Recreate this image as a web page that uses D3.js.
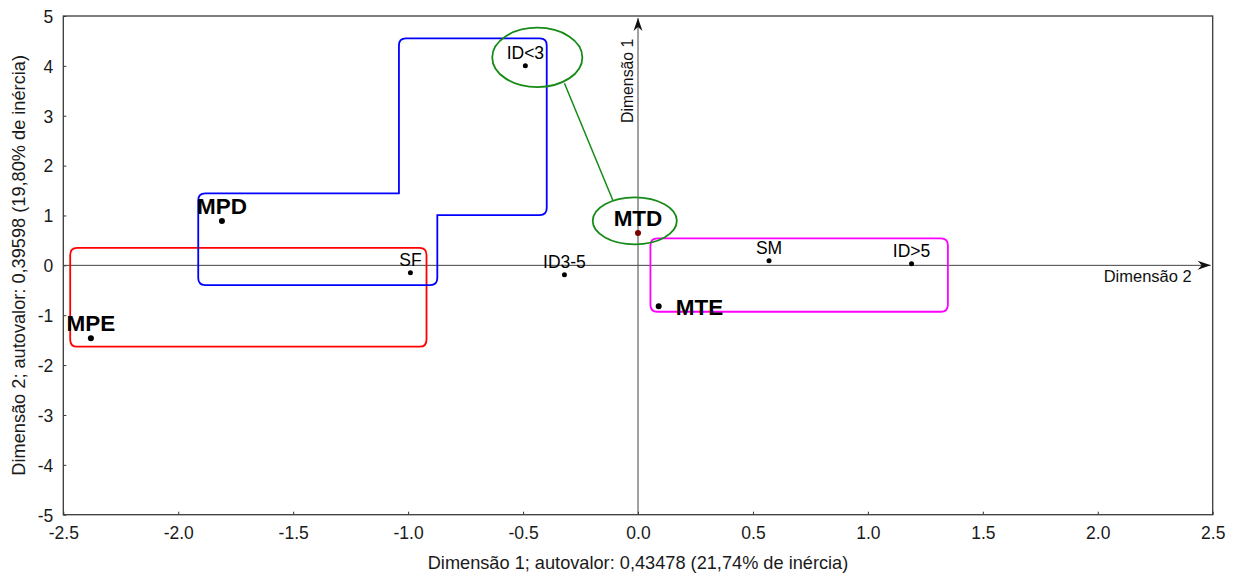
<!DOCTYPE html>
<html>
<head>
<meta charset="utf-8">
<script src="https://cdn.jsdelivr.net/npm/d3@7"></script>
<style>
  html, body { margin: 0; padding: 0; background: #fff; }
  svg { display: block; font-family: "Liberation Sans", Arial, sans-serif; }
</style>
</head>
<body>
<svg id="chart" width="1243" height="574"></svg>
<script>
// Correspondence analysis map: category coordinates on the two dimensions
const labels = ["ID<3", "MTD", "SF", "ID3-5", "SM", "ID>5", "MTE", "MPD", "MPE"];
const dim1   = [-0.49, 0.00, -0.99, -0.32, 0.57, 1.19, 0.09, -1.81, -2.38];
const dim2   = [ 4.00, 0.65, -0.15, -0.19, 0.09, 0.03, -0.82, 0.89, -1.46];
const boldLabels = ["MTD", "MTE", "MPD", "MPE"];

// Axis ticks
const xTicks = [-2.5, -2.0, -1.5, -1.0, -0.5, 0.0, 0.5, 1.0, 1.5, 2.0, 2.5];
const yTicks = [-5, -4, -3, -2, -1, 0, 1, 2, 3, 4, 5];

const xTitle = "Dimensão 1; autovalor: 0,43478 (21,74% de inércia)";
const yTitle = "Dimensão 2; autovalor: 0,39598 (19,80% de inércia)";

// Grouping outlines (data coordinates)
const redGroup     = [[-2.47, 0.35], [-0.92, 0.35], [-0.92, -1.63], [-2.47, -1.63]];
const blueGroup    = [[-1.913, -0.395], [-1.913, 1.444], [-1.04, 1.444], [-1.04, 4.55],
                      [-0.397, 4.55], [-0.397, 1.009], [-0.873, 1.009], [-0.873, -0.395]];
const magentaGroup = [[0.054, 0.54], [1.348, 0.54], [1.348, -0.93], [0.054, -0.93]];

// Highlighted pair: ellipses [cx, cy, rx, ry] and the link between them
const ellipses  = [[-0.438, 4.17, 0.196, 0.595], [-0.014, 0.892, 0.183, 0.471]];
const linkLine  = [[-0.32, 3.65], [-0.11, 1.31]];

const svg = d3.select("#chart");
const M = { left: 63.3, right: 1212.7, top: 16, bottom: 514.7 };

const x = d3.scaleLinear().domain([-2.5, 2.5]).range([M.left, M.right]);
const y = d3.scaleLinear().domain([-5, 5]).range([M.bottom, M.top]);

// Plain hyphen-minus in tick labels
const loc = d3.formatLocale({ decimal: ".", thousands: ",", grouping: [3], currency: ["", ""], minus: "-" });

// Axes with short inward ticks
const xAxis = d3.axisBottom(x).tickValues(xTicks).tickFormat(loc.format(".1f"))
  .tickSizeInner(-3).tickSizeOuter(0).tickPadding(12);
const yAxis = d3.axisLeft(y).tickValues(yTicks).tickFormat(loc.format("d"))
  .tickSizeInner(-3).tickSizeOuter(0).tickPadding(10);

const gx = svg.append("g").attr("transform", `translate(0,${M.bottom})`).call(xAxis);
const gy = svg.append("g").attr("transform", `translate(${M.left},0)`).call(yAxis);
[gx, gy].forEach(g => {
  g.select(".domain").remove();
  g.selectAll(".tick line").attr("stroke", "#333").attr("stroke-width", 1);
  g.selectAll(".tick text").attr("fill", "#1a1a1a").style("font-size", "17.5px")
    .style("font-family", "'Liberation Sans', Arial, sans-serif");
});
gy.selectAll(".tick text").attr("dy", "0.36em");

// Plot frame
svg.append("rect")
  .attr("x", M.left).attr("y", M.top)
  .attr("width", M.right - M.left).attr("height", M.bottom - M.top)
  .attr("fill", "none").attr("stroke", "#3a3a3a").attr("stroke-width", 1.3);

// Axis lines through the origin
svg.append("line")
  .attr("x1", M.left).attr("x2", M.right - 2).attr("y1", y(0)).attr("y2", y(0))
  .attr("stroke", "#444").attr("stroke-width", 1);
svg.append("line")
  .attr("x1", x(0)).attr("x2", x(0)).attr("y1", M.bottom).attr("y2", M.top + 2)
  .attr("stroke", "#444").attr("stroke-width", 1);

// Arrowheads
const ax = M.right - 2, ay = y(0);
svg.append("path")
  .attr("d", `M${ax},${ay} L${ax - 13},${ay - 4.5} L${ax - 9},${ay} L${ax - 13},${ay + 4.5} Z`)
  .attr("fill", "#111");
const bx = x(0), by = M.top + 2;
svg.append("path")
  .attr("d", `M${bx},${by} L${bx - 4.5},${by + 13} L${bx},${by + 9} L${bx + 4.5},${by + 13} Z`)
  .attr("fill", "#111");

// Axis direction captions
svg.append("text")
  .attr("x", M.right - 21).attr("y", y(0) + 17)
  .attr("text-anchor", "end").style("font-size", "16.5px").attr("fill", "#111")
  .text("Dimensão 2");
svg.append("text")
  .attr("transform", `translate(${x(0) - 5},${123}) rotate(-90)`)
  .attr("text-anchor", "start").style("font-size", "15.8px").attr("fill", "#111")
  .text("Dimensão 1");

// Axis titles
svg.append("text")
  .attr("x", (M.left + M.right) / 2).attr("y", 569)
  .attr("text-anchor", "middle").style("font-size", "18.2px").attr("fill", "#1a1a1a")
  .text(xTitle);
svg.append("text")
  .attr("transform", `translate(25,${(M.top + M.bottom) / 2}) rotate(-90)`)
  .attr("text-anchor", "middle").style("font-size", "18.2px").attr("fill", "#1a1a1a")
  .text(yTitle);

// Polygon with rounded convex corners
function roundedPath(pts, r) {
  const P = pts.map(p => [x(p[0]), y(p[1])]);
  const n = P.length;
  let d = "";
  for (let i = 0; i < n; i++) {
    const a = P[(i - 1 + n) % n], b = P[i], c = P[(i + 1) % n];
    const din = [b[0] - a[0], b[1] - a[1]], dout = [c[0] - b[0], c[1] - b[1]];
    const lin = Math.hypot(din[0], din[1]), lout = Math.hypot(dout[0], dout[1]);
    const cross = din[0] * dout[1] - din[1] * dout[0];
    if (cross > 0) {
      const p1 = [b[0] - din[0] / lin * r, b[1] - din[1] / lin * r];
      const p2 = [b[0] + dout[0] / lout * r, b[1] + dout[1] / lout * r];
      d += (i === 0 ? "M" : "L") + p1[0] + "," + p1[1] + "Q" + b[0] + "," + b[1] + " " + p2[0] + "," + p2[1];
    } else {
      d += (i === 0 ? "M" : "L") + b[0] + "," + b[1];
    }
  }
  return d + "Z";
}

svg.append("path").attr("d", roundedPath(redGroup, 7))
  .attr("fill", "none").attr("stroke", "#ff0000").attr("stroke-width", 1.8);
svg.append("path").attr("d", roundedPath(blueGroup, 7))
  .attr("fill", "none").attr("stroke", "#0000ff").attr("stroke-width", 1.8);
svg.append("path").attr("d", roundedPath(magentaGroup, 7))
  .attr("fill", "none").attr("stroke", "#ff00ff").attr("stroke-width", 1.8);

// Highlight ellipses and link
svg.selectAll("ellipse.hl").data(ellipses).join("ellipse")
  .attr("class", "hl")
  .attr("cx", d => x(d[0])).attr("cy", d => y(d[1]))
  .attr("rx", d => x(d[0] + d[2]) - x(d[0]))
  .attr("ry", d => y(d[1] - d[3]) - y(d[1]))
  .attr("fill", "none").attr("stroke", "#168a16").attr("stroke-width", 1.8);
svg.append("line")
  .attr("x1", x(linkLine[0][0])).attr("y1", y(linkLine[0][1]))
  .attr("x2", x(linkLine[1][0])).attr("y2", y(linkLine[1][1]))
  .attr("stroke", "#168a16").attr("stroke-width", 1.5);

// Points and labels
const pts = labels.map((l, i) => ({ label: l, d1: dim1[i], d2: dim2[i] }));

svg.selectAll("circle.pt").data(pts).join("circle")
  .attr("class", "pt")
  .attr("cx", d => x(d.d1)).attr("cy", d => y(d.d2))
  .attr("r", d => boldLabels.includes(d.label) ? 3 : 2.5)
  .attr("fill", d => d.label === "MTD" ? "#7a0000" : "#000");

svg.selectAll("text.lbl").data(pts).join("text")
  .attr("class", "lbl")
  .attr("x", d => d.label === "MTE" ? x(d.d1) + 17 : x(d.d1))
  .attr("y", d => d.label === "MTE" ? y(d.d2) + 9 : y(d.d2) - 7)
  .attr("text-anchor", d => d.label === "MTE" ? "start" : "middle")
  .style("font-size", d => boldLabels.includes(d.label) ? "22.5px" : "17.5px")
  .style("font-weight", d => boldLabels.includes(d.label) ? "bold" : "normal")
  .attr("fill", "#000")
  .text(d => d.label);
</script>
</body>
</html>
